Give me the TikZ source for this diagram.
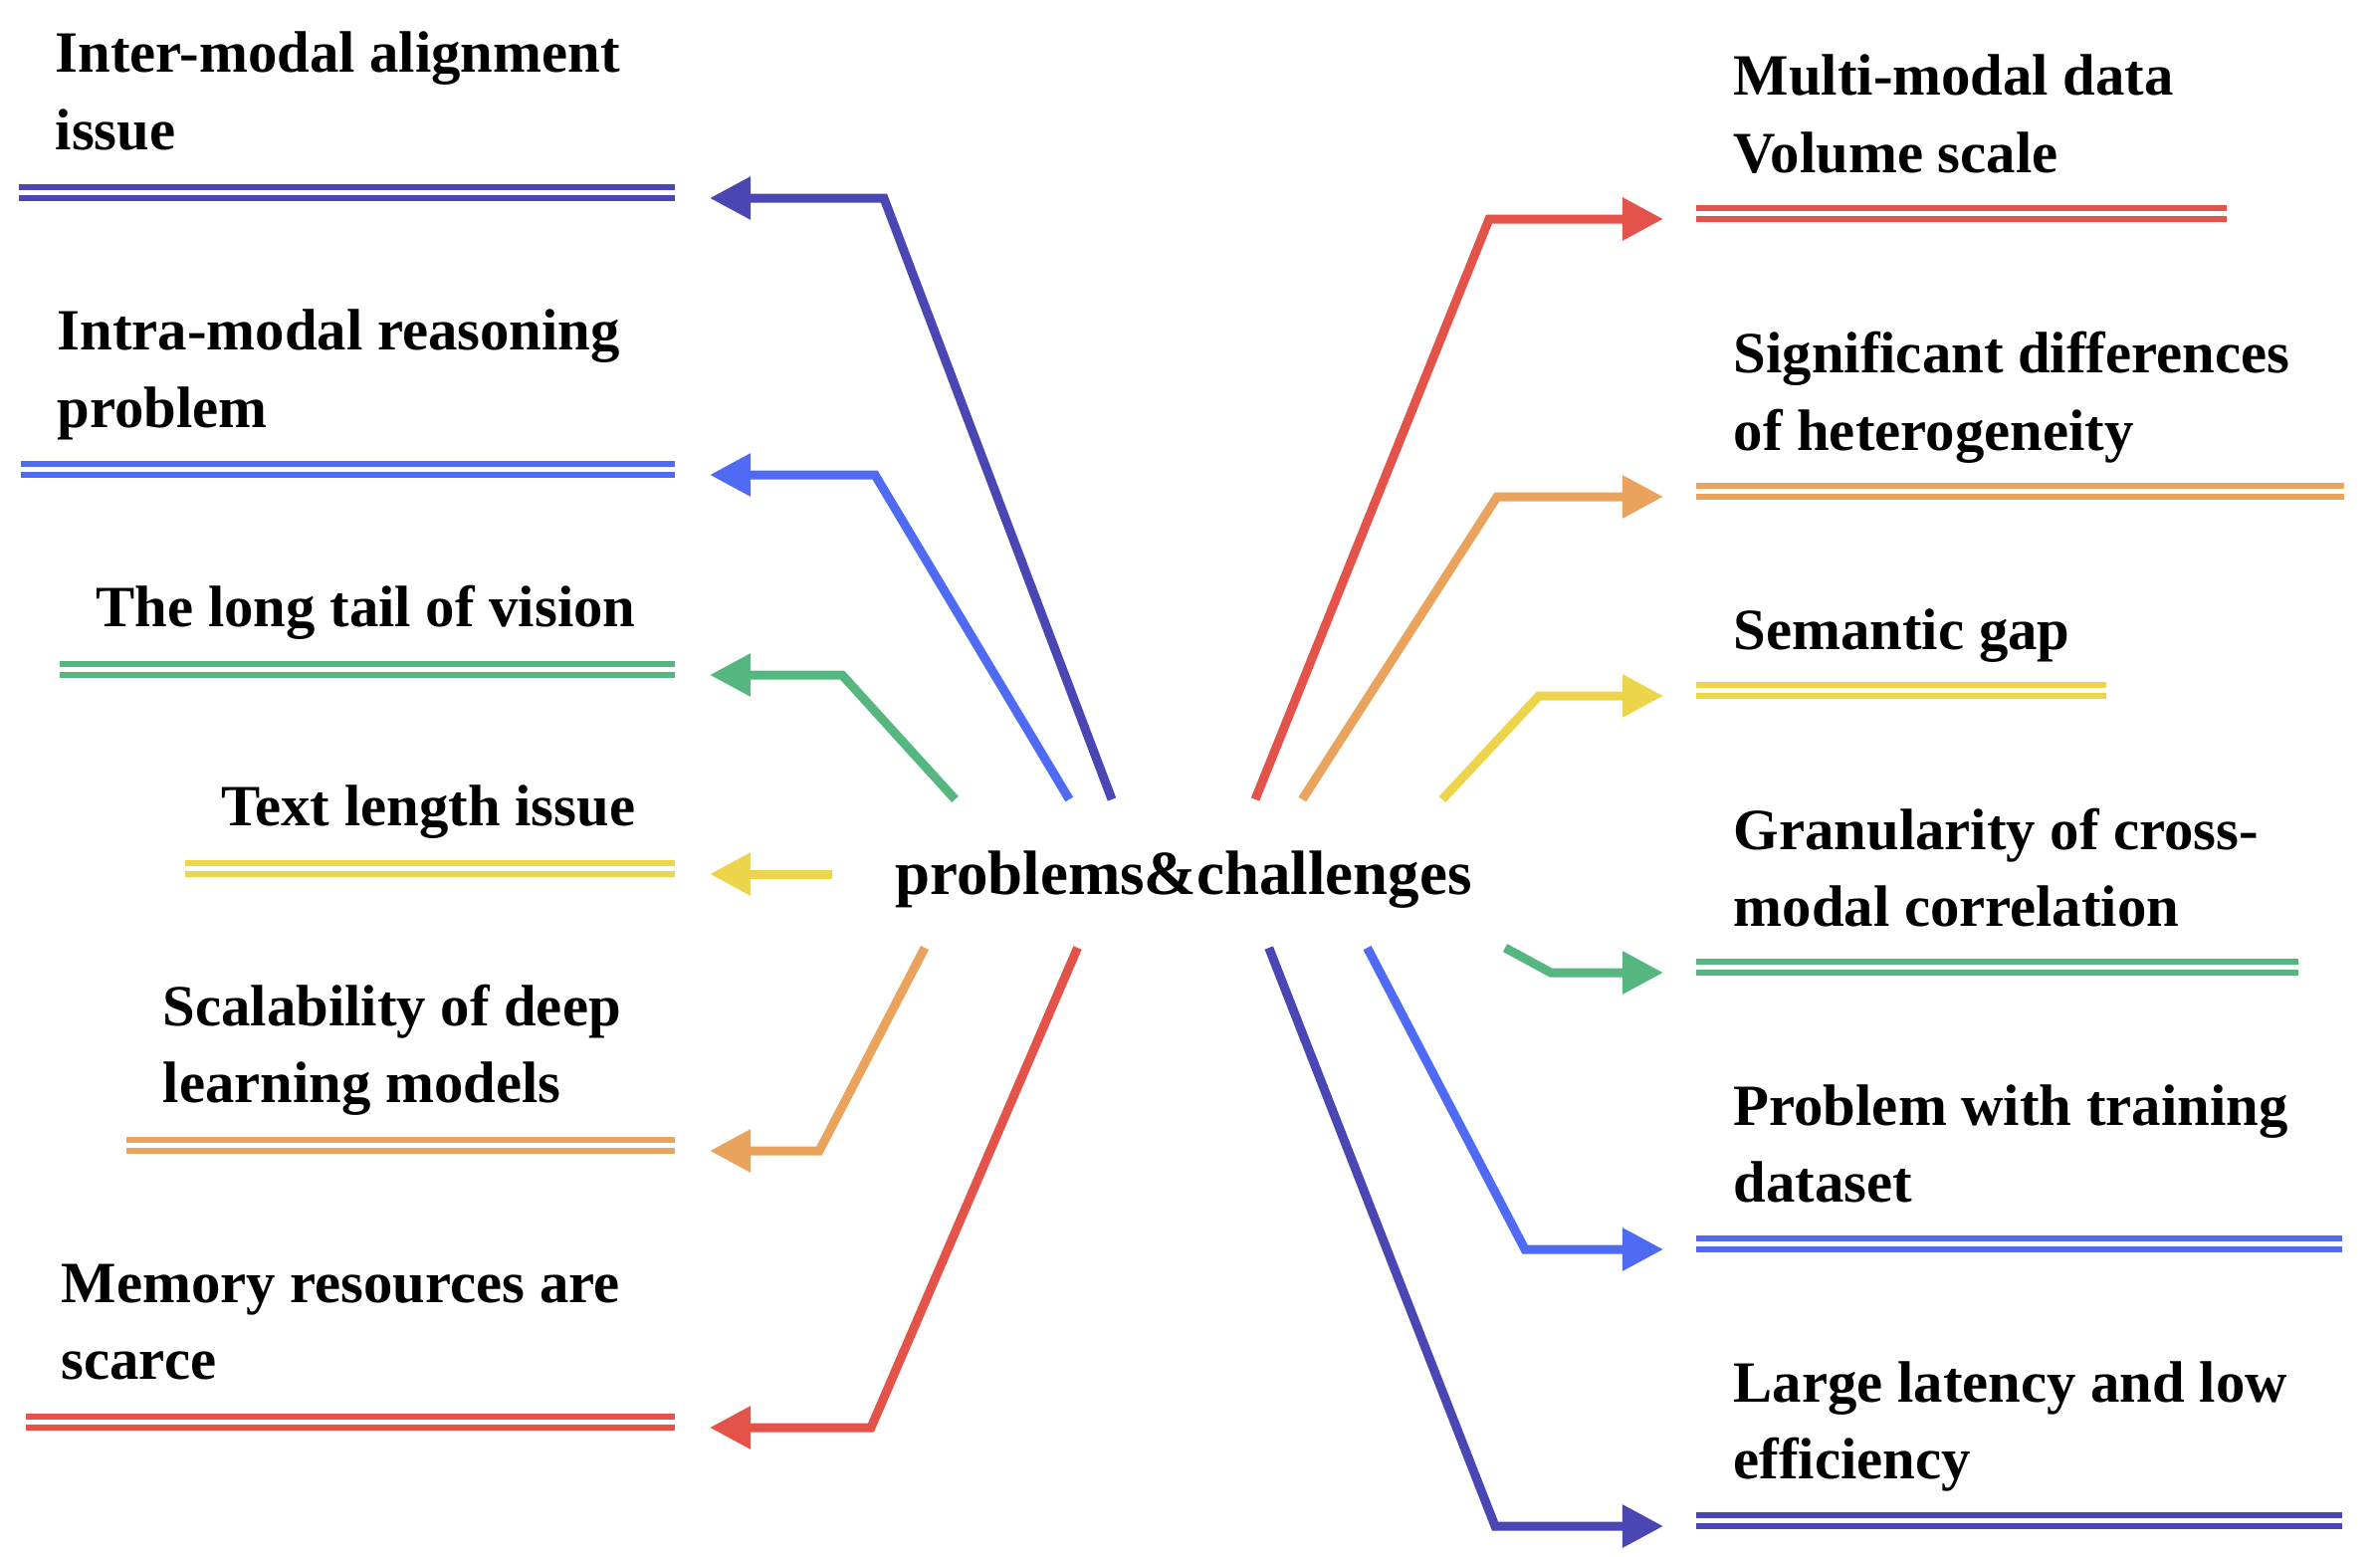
\documentclass[tikz,border=0pt]{standalone}
\usepackage{fontspec}
\setmainfont{Liberation Serif}
\usepackage{tikz}
\usetikzlibrary{arrows.meta, positioning, calc}
\definecolor{indigoline}{HTML}{4A47B5}
\definecolor{blueline}{HTML}{4F6BF4}
\definecolor{greenline}{HTML}{55B77F}
\definecolor{yellowline}{HTML}{ECD44B}
\definecolor{orangeline}{HTML}{E9A35C}
\definecolor{redline}{HTML}{E4534A}

\begin{document}
\begin{tikzpicture}[
    x = 0.01cm, y = -0.01cm,
    > = {Triangle[length = 0.41cm, width = 0.41cm]},
    hub/.style = {rectangle, fill = white, inner sep = 0pt, outer sep = 0pt, minimum width = 7.06cm, minimum height = 1.49cm, text height = 0.6cm, text depth = 0.19cm, font = \fontsize{17.9}{21.9}\selectfont\bfseries},
    topic/.style = {anchor = base west, inner sep = 0pt, align = left, font = \fontsize{16.7}{21.9}\selectfont\bfseries},
    twoline/.style = {line width = 0.055cm, double = white, double distance = 0.055cm},
    branch/.style = {->, line width = 0.09cm},
    ]
    \useasboundingbox (0,0) rectangle (2391,1563);

    % central node
    \node [hub] (pc) at (1189,877.5) {problems\&challenges};

    % left topics (placed at the baseline of their last line)
    \node [topic] (l1) at (55,150)   {Inter-modal alignment\\issue};
    \node [topic] (l2) at (57,429)   {Intra-modal reasoning\\problem};
    \node [topic] (l3) at (96,629)   {The long tail of vision};
    \node [topic] (l4) at (222,829)  {Text length issue};
    \node [topic] (l5) at (163,1107) {Scalability of deep\\learning models};
    \node [topic] (l6) at (61,1385)  {Memory resources are\\scarce};

    % right topics
    \node [topic] (r1) at (1741,173)  {Multi-modal data\\Volume scale};
    \node [topic] (r2) at (1741,452)  {Significant differences\\of heterogeneity};
    \node [topic] (r3) at (1741,652)  {Semantic gap};
    \node [topic] (r4) at (1741,930)  {Granularity of cross-\\modal correlation};
    \node [topic] (r5) at (1741,1207) {Problem with training\\dataset};
    \node [topic] (r6) at (1741,1485) {Large latency and low\\efficiency};

    % double underlines
    \draw [twoline, indigoline] (19,193.5)   -- (678,193.5);
    \draw [twoline, blueline]   (21,471.5)   -- (678,471.5);
    \draw [twoline, greenline]  (60,672.5)   -- (678,672.5);
    \draw [twoline, yellowline] (186,872.5)  -- (678,872.5);
    \draw [twoline, orangeline] (127,1150.5) -- (678,1150.5);
    \draw [twoline, redline]    (26,1428.5)  -- (678,1428.5);
    \draw [twoline, redline]    (1704,214.5)  -- (2237,214.5);
    \draw [twoline, orangeline] (1704,493.5)  -- (2355,493.5);
    \draw [twoline, yellowline] (1704,693.5)  -- (2116,693.5);
    \draw [twoline, greenline]  (1704,971.5)  -- (2309,971.5);
    \draw [twoline, blueline]   (1704,1249.5) -- (2353,1249.5);
    \draw [twoline, indigoline] (1704,1527.5) -- (2353,1527.5);

    % arrow tips and bends
    \coordinate (l1t) at (713,199);  \coordinate (l1k) at (888,199);
    \coordinate (l2t) at (713,477);  \coordinate (l2k) at (879,477);
    \coordinate (l3t) at (713,678);  \coordinate (l3k) at (846,678);
    \coordinate (l4t) at (713,878);
    \coordinate (l5t) at (713,1156); \coordinate (l5k) at (823,1156);
    \coordinate (l6t) at (713,1434); \coordinate (l6k) at (875,1434);
    \coordinate (r1t) at (1671,220);  \coordinate (r1k) at (1496,220);
    \coordinate (r2t) at (1671,499);  \coordinate (r2k) at (1504,499);
    \coordinate (r3t) at (1671,699);  \coordinate (r3k) at (1546,699);
    \coordinate (r4t) at (1671,977);  \coordinate (r4k) at (1558,977);
    \coordinate (r5t) at (1671,1255); \coordinate (r5k) at (1532,1255);
    \coordinate (r6t) at (1671,1533); \coordinate (r6k) at (1502,1533);

    % draw branches
    \draw [branch, indigoline] (pc.134) -- (l1k) -- (l1t);
    \draw [branch, blueline]   (pc.147) -- (l2k) -- (l2t);
    \draw [branch, greenline]  (pc.162) -- (l3k) -- (l3t);
    \draw [branch, yellowline] (pc.west |- l4t) -- (l4t);
    \draw [branch, orangeline] (pc.196) -- (l5k) -- (l5t);
    \draw [branch, redline]    (pc.215) -- (l6k) -- (l6t);
    \draw [branch, redline]    (pc.46)  -- (r1k) -- (r1t);
    \draw [branch, orangeline] (pc.32)  -- (r2k) -- (r2t);
    \draw [branch, yellowline] (pc.16)  -- (r3k) -- (r3t);
    \draw [branch, greenline]  (pc.347) -- (r4k) -- (r4t);
    \draw [branch, blueline]   (pc.338) -- (r5k) -- (r5t);
    \draw [branch, indigoline] (pc.319) -- (r6k) -- (r6t);
\end{tikzpicture}
\end{document}
